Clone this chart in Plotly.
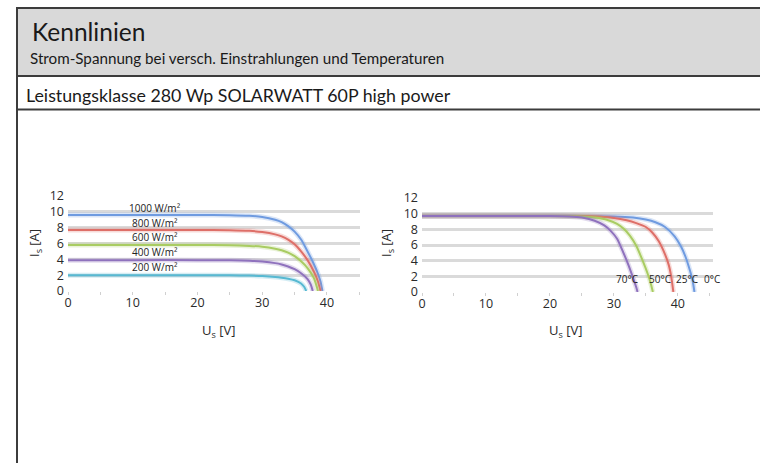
import plotly.graph_objects as go

# ---------------- data ----------------
irr_names = ["1000 W/m²", "800 W/m²", "600 W/m²", "400 W/m²", "200 W/m²"]
irr_colors = ["#6f9be0", "#de6f68", "#a9cc62", "#8f72bd", "#57b9d2"]

u_1000 = [0, 10, 20, 25, 28, 30, 32, 33, 34, 35, 36, 37, 37.8, 38.5, 39.0, 39.3]
i_1000 = [9.6, 9.6, 9.6, 9.58, 9.5, 9.35, 9.0, 8.7, 8.2, 7.5, 6.5, 5.0, 3.7, 2.4, 1.2, 0]
u_800 = [0, 10, 20, 25, 28, 30, 32, 33, 34, 35, 36, 37, 38, 38.6, 39.0]
i_800 = [7.7, 7.7, 7.7, 7.68, 7.6, 7.45, 7.15, 6.9, 6.5, 5.9, 5.0, 3.9, 2.4, 1.2, 0]
u_600 = [0, 10, 20, 25, 28, 30, 32, 33, 34, 35, 36, 37, 38, 38.4, 38.6]
i_600 = [5.8, 5.8, 5.8, 5.78, 5.7, 5.6, 5.35, 5.15, 4.85, 4.4, 3.75, 2.9, 1.6, 0.6, 0]
u_400 = [0, 10, 20, 25, 28, 30, 32, 33, 34, 35, 36, 37, 37.5, 37.8]
i_400 = [3.9, 3.9, 3.9, 3.88, 3.82, 3.72, 3.52, 3.35, 3.1, 2.75, 2.25, 1.5, 0.8, 0]
u_200 = [0, 10, 20, 25, 28, 30, 32, 33, 34, 35, 36, 36.5, 36.8]
i_200 = [2.0, 2.0, 2.0, 1.99, 1.95, 1.9, 1.78, 1.68, 1.55, 1.35, 0.95, 0.5, 0]

temp_names = ["0°C", "25°C", "50°C", "70°C"]
temp_colors = ["#6f9be0", "#de6f68", "#a9cc62", "#8f72bd"]

u_0c = [0, 10, 20, 25, 30, 33, 35, 36.5, 38, 39.5, 40.5, 41.2, 41.8, 42.3, 42.6]
i_0c = [9.7, 9.7, 9.7, 9.7, 9.65, 9.5, 9.25, 8.9, 8.3, 7.1, 5.8, 4.5, 3.0, 1.5, 0]
u_25c = [0, 10, 20, 25, 28, 30, 32, 33.5, 35, 36, 37, 38, 38.6, 39.0, 39.3]
i_25c = [9.7, 9.7, 9.7, 9.7, 9.6, 9.45, 9.15, 8.8, 8.3, 7.6, 6.5, 4.8, 3.4, 1.8, 0]
u_50c = [0, 10, 20, 25, 27, 29, 30.5, 31.5, 32.5, 33.5, 34.5, 35.3, 35.8, 36.1]
i_50c = [9.7, 9.7, 9.7, 9.65, 9.5, 9.2, 8.7, 8.1, 7.2, 5.9, 4.0, 2.3, 1.0, 0]
u_70c = [0, 10, 20, 23, 25, 27, 28.5, 29.5, 30.5, 31.5, 32.3, 33.0, 33.5, 33.7]
i_70c = [9.7, 9.7, 9.7, 9.65, 9.5, 9.1, 8.5, 7.8, 6.8, 5.0, 3.4, 1.8, 0.6, 0]

irr_u = [u_1000, u_800, u_600, u_400, u_200]
irr_i = [i_1000, i_800, i_600, i_400, i_200]
temp_u = [u_0c, u_25c, u_50c, u_70c]
temp_i = [i_0c, i_25c, i_50c, i_70c]

# label positions (data coordinates)
irr_label_u = [13.4, 13.4, 13.4, 13.4, 13.4]
irr_label_i = [10.5, 8.6, 6.8, 4.9, 3.0]
temp_label_u = [45.3, 41.5, 37.2, 32.1]
temp_label_i = [1.65, 1.65, 1.65, 1.65]

x_ticks = [0, 10, 20, 30, 40]
y_ticks = [0, 2, 4, 6, 8, 10, 12]

title = "Kennlinien"
subtitle = "Strom-Spannung bei versch. Einstrahlungen und Temperaturen"
section = "Leistungsklasse 280 Wp SOLARWATT 60P high power"

# ---------------- figure ----------------
W, H = 760, 463
HEAD_FONT = "Lato, Roboto, sans-serif"
TICK_FONT = "Open Sans, Noto Sans, sans-serif"


def px(x):
    return x / W


def py(y):
    return 1 - y / H


fig = go.Figure()

for us, is_, c, name in zip(irr_u, irr_i, irr_colors, irr_names):
    fig.add_trace(go.Scatter(x=us, y=is_, mode="lines", line=dict(color=c, width=5, shape="spline", smoothing=0.6),
                             opacity=0.25, xaxis="x", yaxis="y", showlegend=False, hoverinfo="skip"))
    fig.add_trace(go.Scatter(x=us, y=is_, mode="lines", line=dict(color=c, width=2, shape="spline", smoothing=0.6),
                             name=name, xaxis="x", yaxis="y", showlegend=False))
for us, is_, c, name in zip(temp_u, temp_i, temp_colors, temp_names):
    fig.add_trace(go.Scatter(x=us, y=is_, mode="lines", line=dict(color=c, width=5, shape="spline", smoothing=0.6),
                             opacity=0.25, xaxis="x2", yaxis="y2", showlegend=False, hoverinfo="skip"))
    fig.add_trace(go.Scatter(x=us, y=is_, mode="lines", line=dict(color=c, width=2, shape="spline", smoothing=0.6),
                             name=name, xaxis="x2", yaxis="y2", showlegend=False))

axis_common = dict(
    showline=False, zeroline=False, tickfont=dict(family=TICK_FONT, size=12.5, color="#2a2a2a"),
    fixedrange=True, automargin=False,
)
xa = dict(axis_common, range=[0, 45.1], tickvals=x_ticks, showgrid=False, ticks="outside", ticklen=3,
          tickcolor="#d0d0d0", ticklabelstandoff=-3,
          minor=dict(dtick=5, ticks="outside", ticklen=3, tickcolor="#d0d0d0"))
ya = dict(axis_common, range=[0, 12], tickvals=y_ticks, showgrid=True, gridcolor="#dadada", gridwidth=3,
          ticks="", ticklabelstandoff=3)

fig.update_layout(
    width=W, height=H, autosize=False,
    margin=dict(l=0, r=0, t=0, b=0, pad=0, autoexpand=False),
    paper_bgcolor="white", plot_bgcolor="white", showlegend=False,
    xaxis=dict(xa, domain=[px(68), px(360)], anchor="y"),
    yaxis=dict(ya, domain=[py(291), py(196)], anchor="x"),
    xaxis2=dict(xa, domain=[px(422), px(713)], range=[0, 45.5], anchor="y2"),
    yaxis2=dict(ya, domain=[py(292), py(198)], anchor="x2"),
)

shapes = [
    dict(type="rect", xref="paper", yref="paper", x0=px(17), x1=px(762), y0=py(76), y1=py(8),
         fillcolor="#d9d9d9", line=dict(color="#3c3c3c", width=2), layer="below"),
    dict(type="line", xref="paper", yref="paper", x0=px(17), x1=px(762), y0=py(109.5), y1=py(109.5),
         line=dict(color="#3c3c3c", width=2)),
    dict(type="line", xref="paper", yref="paper", x0=px(17), x1=px(17), y0=py(8), y1=py(470),
         line=dict(color="#3c3c3c", width=2)),
]
fig.update_layout(shapes=shapes)

ann = [
    dict(text=title, x=px(30), y=py(48), xanchor="left", yanchor="bottom",
         font=dict(family=HEAD_FONT, size=24.5, color="#1a1a1a")),
    dict(text=subtitle, x=px(28), y=py(57.5), xanchor="left", yanchor="middle",
         font=dict(family=HEAD_FONT, size=15.2, color="#1a1a1a")),
    dict(text=section, x=px(24), y=py(94.5), xanchor="left", yanchor="middle",
         font=dict(family=HEAD_FONT, size=17.8, color="#1a1a1a")),
    dict(text="U<sub>s</sub> [V]", x=px(218), y=py(331), xanchor="center", yanchor="middle",
         font=dict(family=TICK_FONT, size=13, color="#2a2a2a")),
    dict(text="U<sub>s</sub> [V]", x=px(565), y=py(331), xanchor="center", yanchor="middle",
         font=dict(family=TICK_FONT, size=13, color="#2a2a2a")),
    dict(text="I<sub>s</sub> [A]", x=px(35), y=py(243), xanchor="center", yanchor="middle", textangle=-90,
         font=dict(family=TICK_FONT, size=13, color="#2a2a2a")),
    dict(text="I<sub>s</sub> [A]", x=px(387), y=py(243), xanchor="center", yanchor="middle", textangle=-90,
         font=dict(family=TICK_FONT, size=13, color="#2a2a2a")),
]
for a in ann:
    a.update(xref="paper", yref="paper", showarrow=False)

for name, u, i in zip(irr_names, irr_label_u, irr_label_i):
    ann.append(dict(text=name, x=u, y=i, xref="x", yref="y", showarrow=False, xanchor="center", yanchor="middle",
                    font=dict(family=TICK_FONT, size=10, color="#222222")))
for name, u, i in zip(temp_names, temp_label_u, temp_label_i):
    ann.append(dict(text=name, x=u, y=i, xref="x2", yref="y2", showarrow=False, xanchor="center", yanchor="middle",
                    font=dict(family=TICK_FONT, size=10, color="#222222")))

fig.update_layout(annotations=ann)

fig.write_html(
    "out.html",
    config={"displayModeBar": False, "staticPlot": True},
    post_script="document.body.style.margin='0';document.body.style.overflow='hidden';",
)
